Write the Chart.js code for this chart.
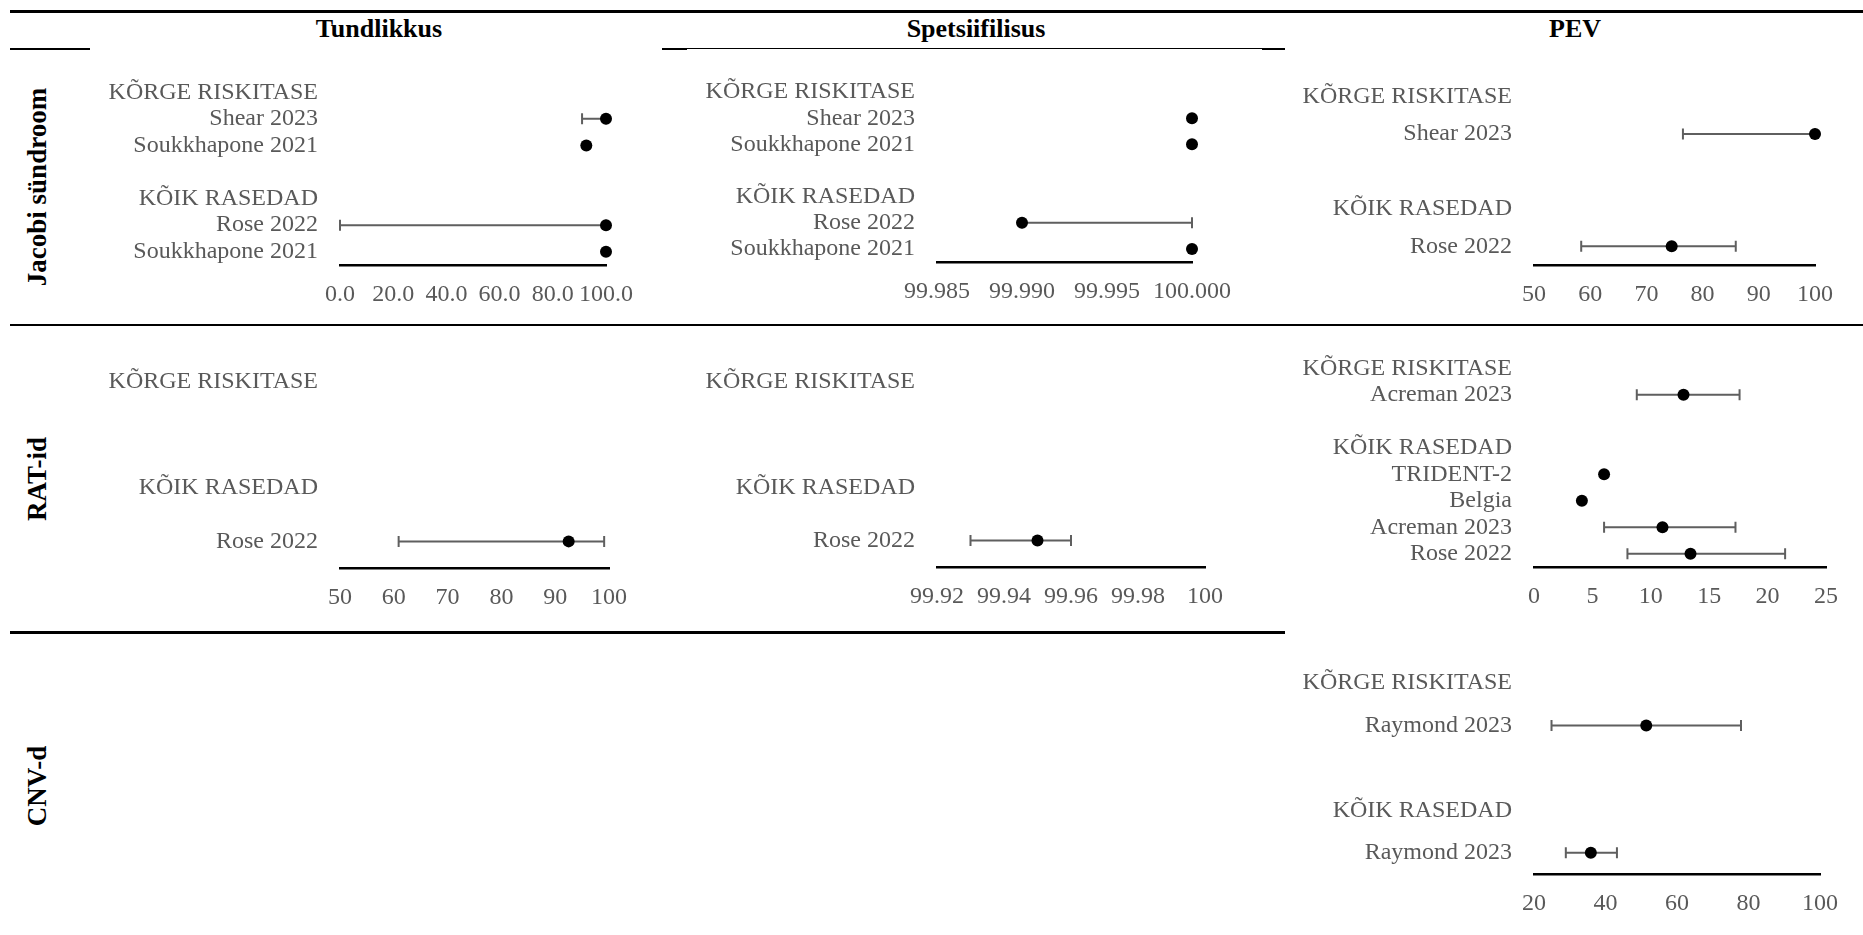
<!DOCTYPE html>
<html>
<head>
<meta charset="utf-8">
<script src="https://cdn.jsdelivr.net/npm/chart.js@4.4.1/dist/chart.umd.min.js"></script>
<style>
  html, body { margin: 0; padding: 0; background: #fff; overflow: hidden; }
  #page { position: relative; width: 1863px; height: 935px; }
  .rule { position: absolute; background: #000; }
  .col-title {
    position: absolute; width: 300px; height: 30px; text-align: center;
    font: bold 26px 'Liberation Serif', 'Times New Roman', serif; line-height: 30px; color: #000;
  }
  .row-title {
    position: absolute; width: 300px; height: 30px; text-align: center;
    font: bold 27px 'Liberation Serif', 'Times New Roman', serif; line-height: 30px; color: #000;
    transform: rotate(-90deg); transform-origin: 50% 50%;
  }
  canvas { position: absolute; }
</style>
</head>
<body>
<div id="page"></div>
<script>
// ---------- Jacobi sündroom ----------
const jacobiSensLabels = ['KÕRGE RISKITASE', 'Shear 2023', 'Soukkhapone 2021', '', 'KÕIK RASEDAD', 'Rose 2022', 'Soukkhapone 2021'];
const jacobiSensEst  = [null, 100, 92.6, null, null, 100, 100];
const jacobiSensLow  = [null, 91.0, null, null, null, 0, null];
const jacobiSensHigh = [null, 100, null, null, null, 100, null];
const jacobiSensTicks = [0, 20, 40, 60, 80, 100];
const jacobiSensTickLabels = ['0.0', '20.0', '40.0', '60.0', '80.0', '100.0'];

const jacobiSpecLabels = ['KÕRGE RISKITASE', 'Shear 2023', 'Soukkhapone 2021', '', 'KÕIK RASEDAD', 'Rose 2022', 'Soukkhapone 2021'];
const jacobiSpecEst  = [null, 100, 100, null, null, 99.990, 100];
const jacobiSpecLow  = [null, null, null, null, null, 99.990, null];
const jacobiSpecHigh = [null, null, null, null, null, 100, null];
const jacobiSpecTicks = [99.985, 99.990, 99.995, 100.000];
const jacobiSpecTickLabels = ['99.985', '99.990', '99.995', '100.000'];

const jacobiPevLabels = ['KÕRGE RISKITASE', 'Shear 2023', '', 'KÕIK RASEDAD', 'Rose 2022'];
const jacobiPevEst  = [null, 100, null, null, 74.5];
const jacobiPevLow  = [null, 76.5, null, null, 58.4];
const jacobiPevHigh = [null, 100, null, null, 85.9];
const jacobiPevTicks = [50, 60, 70, 80, 90, 100];
const jacobiPevTickLabels = ['50', '60', '70', '80', '90', '100'];

// ---------- RAT-id ----------
const ratSensLabels = ['KÕRGE RISKITASE', '', 'KÕIK RASEDAD', 'Rose 2022'];
const ratSensEst  = [null, null, null, 92.5];
const ratSensLow  = [null, null, null, 60.9];
const ratSensHigh = [null, null, null, 99.1];
const ratSensTicks = [50, 60, 70, 80, 90, 100];
const ratSensTickLabels = ['50', '60', '70', '80', '90', '100'];

const ratSpecLabels = ['KÕRGE RISKITASE', '', 'KÕIK RASEDAD', 'Rose 2022'];
const ratSpecEst  = [null, null, null, 99.950];
const ratSpecLow  = [null, null, null, 99.930];
const ratSpecHigh = [null, null, null, 99.960];
const ratSpecTicks = [99.92, 99.94, 99.96, 99.98, 100];
const ratSpecTickLabels = ['99.92', '99.94', '99.96', '99.98', '100'];

const ratPevLabels = ['KÕRGE RISKITASE', 'Acreman 2023', '', 'KÕIK RASEDAD', 'TRIDENT-2', 'Belgia', 'Acreman 2023', 'Rose 2022'];
const ratPevEst  = [null, 12.8, null, null, 6.0, 4.1, 11.0, 13.4];
const ratPevLow  = [null, 8.8, null, null, null, null, 6.0, 8.0];
const ratPevHigh = [null, 17.6, null, null, null, null, 17.25, 21.5];
const ratPevTicks = [0, 5, 10, 15, 20, 25];
const ratPevTickLabels = ['0', '5', '10', '15', '20', '25'];

// ---------- CNV-d ----------
const cnvPevLabels = ['KÕRGE RISKITASE', 'Raymond 2023', '', 'KÕIK RASEDAD', 'Raymond 2023'];
const cnvPevEst  = [null, 51.4, null, null, 35.9];
const cnvPevLow  = [null, 24.9, null, null, 28.9];
const cnvPevHigh = [null, 77.9, null, null, 43.2];
const cnvPevTicks = [20, 40, 60, 80, 100];
const cnvPevTickLabels = ['20', '40', '60', '80', '100'];

// ---------- page layout ----------
const PAGE_W = 1863;
const FONT = "'Liberation Serif', 'Times New Roman', serif";
const TEXT_GREY = '#595959';
const page = document.getElementById('page');

function addRule(x, y, w, h) {
  const d = document.createElement('div');
  d.className = 'rule';
  d.style.left = x + 'px'; d.style.top = y + 'px';
  d.style.width = w + 'px'; d.style.height = h + 'px';
  page.appendChild(d);
}
function addText(cls, text, left, top) {
  const d = document.createElement('div');
  d.className = cls;
  d.textContent = text;
  d.style.left = left + 'px'; d.style.top = top + 'px';
  page.appendChild(d);
}

// table rules
addRule(10, 10, PAGE_W - 10, 2.5);
addRule(10, 48, 80, 2);
addRule(662, 48.2, 623, 1.3);
addRule(662, 47.8, 25, 2.2);
addRule(1262, 47.8, 23, 2.2);
addRule(10, 323.5, PAGE_W - 10, 2.5);
addRule(10, 631, 1275, 2.5);

// column and row headings
addText('col-title', 'Tundlikkus', 379 - 150, 14);
addText('col-title', 'Spetsiifilisus', 976 - 150, 14);
addText('col-title', 'PEV', 1575 - 150, 14);
addText('row-title', 'Jacobi sündroom', 36.5 - 150, 187 - 15);
addText('row-title', 'RAT-id', 36.5 - 150, 479 - 15);
addText('row-title', 'CNV-d', 36.5 - 150, 786 - 15);

// confidence-interval whiskers, drawn under the point markers
const ciPlugin = {
  id: 'ciWhiskers',
  beforeDatasetsDraw(chart) {
    const { ctx, scales: { x, y } } = chart;
    const ds = chart.data.datasets[0];
    const lows = ds.ciLow, highs = ds.ciHigh;
    const cap = 5.5;
    ctx.save();
    ctx.strokeStyle = '#5f5f5f';
    ctx.lineWidth = 2;
    lows.forEach((lo, i) => {
      const hi = highs[i];
      if (lo == null || hi == null) return;
      const py = y.getPixelForValue(i);
      const x1 = x.getPixelForValue(lo);
      const x2 = x.getPixelForValue(hi);
      ctx.beginPath();
      ctx.moveTo(x1, py); ctx.lineTo(x2, py);
      ctx.moveTo(x1, py - cap); ctx.lineTo(x1, py + cap);
      ctx.moveTo(x2, py - cap); ctx.lineTo(x2, py + cap);
      ctx.stroke();
    });
    ctx.restore();
  }
};

function makePanel(area, labels, est, low, high, ticks, tickLabels) {
  const padL = 250, padT = 50, padB = 60;
  const padR = Math.min(70, PAGE_W - area.R);
  const w = area.R - area.L + padL + padR;
  const h = area.B - area.T + padT + padB;
  const cv = document.createElement('canvas');
  cv.width = w; cv.height = h;
  cv.style.left = (area.L - padL) + 'px';
  cv.style.top = (area.T - padT) + 'px';
  cv.style.width = w + 'px'; cv.style.height = h + 'px';
  page.appendChild(cv);

  new Chart(cv, {
    type: 'line',
    data: {
      labels: labels,
      datasets: [{
        data: est, ciLow: low, ciHigh: high,
        showLine: false, clip: false,
        pointRadius: 6, pointHoverRadius: 6,
        pointBackgroundColor: '#000', pointBorderColor: '#000', pointBorderWidth: 0
      }]
    },
    options: {
      responsive: false, animation: false, indexAxis: 'y', events: [],
      layout: { padding: { left: 0, top: padT, right: padR, bottom: 0 } },
      plugins: { legend: { display: false }, tooltip: { enabled: false } },
      scales: {
        x: {
          type: 'linear', position: 'bottom',
          min: ticks[0], max: ticks[ticks.length - 1],
          grid: { display: false, drawTicks: false },
          border: { display: true, color: '#000', width: 2.5 },
          afterBuildTicks: s => { s.ticks = ticks.map(v => ({ value: v })); },
          afterFit: s => { s.height = padB; },
          ticks: {
            autoSkip: false, maxRotation: 0, minRotation: 0, padding: 15.5,
            color: TEXT_GREY, font: { family: FONT, size: 24 },
            callback: (v, i) => tickLabels[i]
          }
        },
        y: {
          type: 'category', position: 'left', offset: true,
          grid: { display: false, drawTicks: false },
          border: { display: false },
          afterFit: s => { s.width = padL; },
          ticks: { autoSkip: false, padding: 22, color: TEXT_GREY, font: { family: FONT, size: 24 } }
        }
      }
    },
    plugins: [ciPlugin]
  });
}

makePanel({ L: 340, T: 79, R: 606, B: 265 }, jacobiSensLabels, jacobiSensEst, jacobiSensLow, jacobiSensHigh, jacobiSensTicks, jacobiSensTickLabels);
makePanel({ L: 937, T: 79, R: 1192, B: 262 }, jacobiSpecLabels, jacobiSpecEst, jacobiSpecLow, jacobiSpecHigh, jacobiSpecTicks, jacobiSpecTickLabels);
makePanel({ L: 1534, T: 78, R: 1815, B: 265 }, jacobiPevLabels, jacobiPevEst, jacobiPevLow, jacobiPevHigh, jacobiPevTicks, jacobiPevTickLabels);
makePanel({ L: 340, T: 355, R: 609, B: 568 }, ratSensLabels, ratSensEst, ratSensLow, ratSensHigh, ratSensTicks, ratSensTickLabels);
makePanel({ L: 937, T: 355, R: 1205, B: 567 }, ratSpecLabels, ratSpecEst, ratSpecLow, ratSpecHigh, ratSpecTicks, ratSpecTickLabels);
makePanel({ L: 1534, T: 355, R: 1826, B: 567 }, ratPevLabels, ratPevEst, ratPevLow, ratPevHigh, ratPevTicks, ratPevTickLabels);
makePanel({ L: 1534, T: 662, R: 1820, B: 874 }, cnvPevLabels, cnvPevEst, cnvPevLow, cnvPevHigh, cnvPevTicks, cnvPevTickLabels);
</script>
</body>
</html>
